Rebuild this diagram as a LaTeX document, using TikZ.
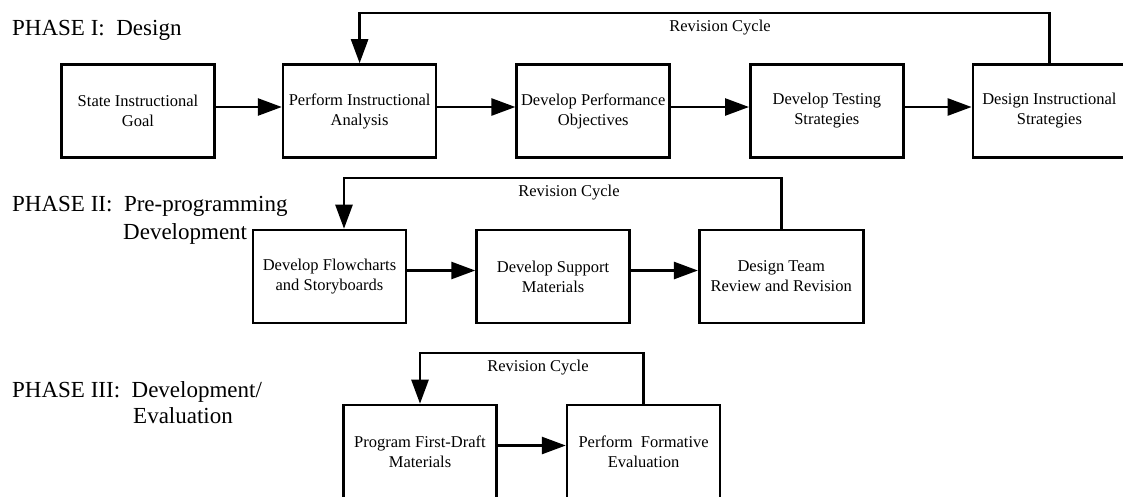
\documentclass[tikz,border=0pt]{standalone}
\usepackage{fontspec}
\setmainfont{Liberation Serif}
\usetikzlibrary{positioning,arrows.meta}

\begin{document}
\begin{tikzpicture}[%
  x=1pt,y=-1pt,%
  box/.style={draw,line width=2.6pt,minimum width=153pt,minimum height=93pt,inner sep=0pt,align=center,font=\fontsize{16.5}{20}\selectfont},%
  arr/.style={-{Triangle[length=24pt,width=17pt]},line width=2.6pt},%
  lbl/.style={font=\fontsize{16.5}{20}\selectfont},%
  phase/.style={anchor=base west,inner sep=0pt,font=\fontsize{23}{28}\selectfont}%
  ]
  \useasboundingbox (0,0) rectangle (1123,496);
%
  \node (ph1)  [phase] at (12,35)   {PHASE I:\ \ Design};
  \node (ph2)  [phase] at (12,211)  {PHASE II:\ \ Pre-programming};
  \node (ph2b) [phase] at (123,239) {Development};
  \node (ph3)  [phase] at (12,397)  {PHASE III:\ \ Development/};
  \node (ph3b) [phase] at (133,423) {Evaluation};
%
  \node (i1) [box] at (138,111)        {State Instructional\\Goal};
  \node (i2) [box,right=66pt of i1]    {Perform Instructional\\Analysis};
  \node (i3) [box,right=78pt of i2]    {Develop Performance\\Objectives};
  \node (i4) [box,right=78pt of i3]    {Develop Testing\\Strategies};
  \node (i5) [box,right=67pt of i4]    {Design Instructional\\Strategies};
%
  \node (ii1) [box] at (329.5,276.5)   {Develop Flowcharts\\and Storyboards};
  \node (ii2) [box,right=68pt of ii1]  {Develop Support\\Materials};
  \node (ii3) [box,minimum width=164pt,right=67pt of ii2] {Design Team\\Review and Revision};
%
  \node (iii1) [box] at (420,451.5)    {Program First-Draft\\Materials};
  \node (iii2) [box,right=68pt of iii1] {Perform\ \ Formative\\Evaluation};
%
  \draw[arr] ([yshift=4pt]i1.east) -- ([yshift=4pt]i2.west);
  \draw[arr] ([yshift=4pt]i2.east) -- ([yshift=4pt]i3.west);
  \draw[arr] ([yshift=4pt]i3.east) -- ([yshift=4pt]i4.west);
  \draw[arr] ([yshift=4pt]i4.east) -- ([yshift=4pt]i5.west);
  \draw[arr] ([yshift=6pt]ii1.east) -- ([yshift=6pt]ii2.west);
  \draw[arr] ([yshift=6pt]ii2.east) -- ([yshift=6pt]ii3.west);
  \draw[arr] ([yshift=6pt]iii1.east) -- ([yshift=6pt]iii2.west);
%
  % revision cycles
  \coordinate (r1) at (0,13);
  \coordinate (r2) at (0,178);
  \coordinate (r3) at (0,353);
  \draw[arr] (i5.north) -- (i5.north |- r1) -| (i2.north);
  \draw[arr] (ii3.north) -- (ii3.north |- r2) -| ([xshift=14.5pt]ii1.north);
  \draw[arr] (iii2.north) -- (iii2.north |- r3) -| (iii1.north);
  \node (rc1) [lbl] at (720,28)  {Revision Cycle};
  \node (rc2) [lbl] at (569,193) {Revision Cycle};
  \node (rc3) [lbl] at (538,368) {Revision Cycle};
%
\end{tikzpicture}
\end{document}
